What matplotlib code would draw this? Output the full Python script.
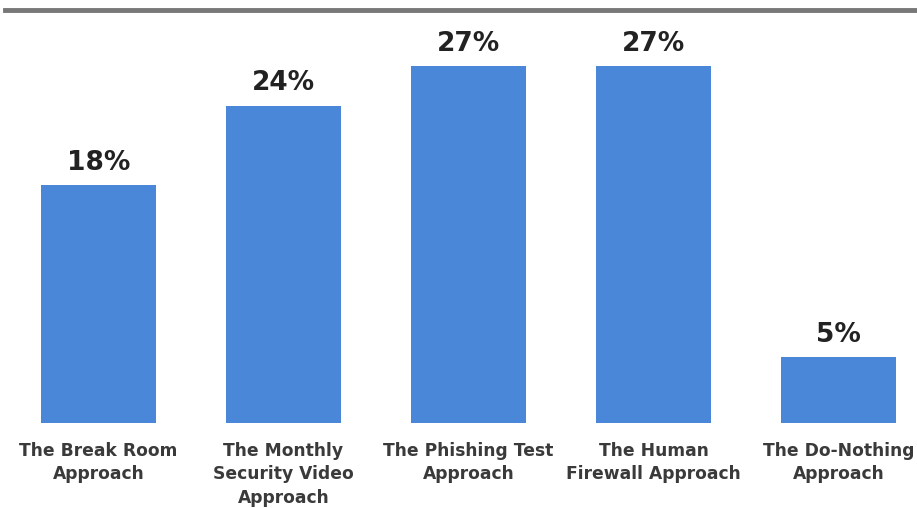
import matplotlib.pyplot as plt

categories = [
    "The Break Room\nApproach",
    "The Monthly\nSecurity Video\nApproach",
    "The Phishing Test\nApproach",
    "The Human\nFirewall Approach",
    "The Do-Nothing\nApproach",
]
shares = [18, 24, 27, 27, 5]

bar_color = "#4a87d9"

fig = plt.figure(figsize=(9.17, 5.08), dpi=100)
ax = fig.add_axes([0, (508 - 423) / 508, 1, (423 - 40) / 508])

x = range(len(shares))
bars = ax.bar(x, shares, width=0.62, color=bar_color)
ax.set_xlim(-0.532, 4.424)
ax.set_ylim(0, 28.97)

for b, v in zip(bars, shares):
    ax.text(b.get_x() + b.get_width() / 2, v + 0.7, f"{v}%",
            ha="center", va="bottom", fontsize=19, fontweight="bold", color="#222222")

for i, lab in zip(x, categories):
    ax.text(i, -1.4, lab, ha="center", va="top", fontsize=12.3,
            fontweight="bold", color="#3a3a3a", linespacing=1.4)

for s in ax.spines.values():
    s.set_visible(False)
ax.set_xticks([])
ax.set_yticks([])

# header rule under the cropped title
fig.add_artist(plt.Line2D([5 / 917, 1], [1 - 10 / 508, 1 - 10 / 508],
                          color="#777777", linewidth=3.5))

fig.savefig("out.png", dpi=100)
